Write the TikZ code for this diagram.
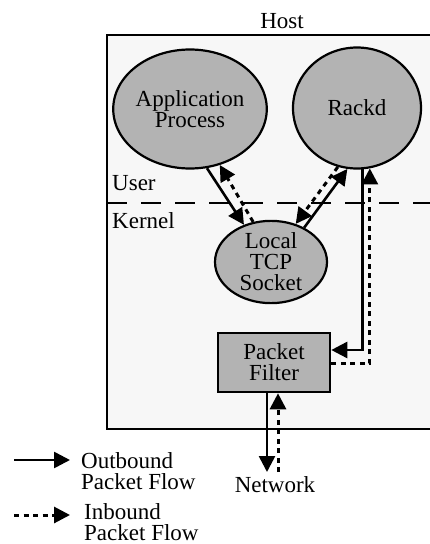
\documentclass[tikz,border=0pt]{standalone}
\usepackage{fontspec}
\setmainfont{Liberation Serif}
\usepackage{tikz}
\usetikzlibrary{shapes.geometric,arrows.meta,positioning}
\definecolor{hostbg}{RGB}{247,247,247}
\definecolor{shapegray}{RGB}{179,179,179}

\begin{document}
\begin{tikzpicture}[
  x=1pt,y=-1pt,
  font=\fontsize{23}{21}\selectfont,
  lbl/.style={inner sep=0pt},
  proc/.style={ellipse,draw,line width=2.2pt,fill=shapegray,inner sep=0pt,align=center},
  filt/.style={rectangle,draw,line width=2.6pt,fill=shapegray,inner sep=0pt,align=center},
  outf/.style={-{Triangle[length=16pt,width=16pt]},line width=2.6pt},
  inf/.style={-{Triangle[length=16pt,width=16pt]},line width=3pt,dash pattern=on 5pt off 4.5pt},
]
\useasboundingbox (0,0) rectangle (430,544);
\clip (0,0) rectangle (430,544);

% Host
\fill[white] (0,0) rectangle (430,544);
\draw[line width=2.4pt,fill=hostbg] (107,35) rectangle (445,429);
\node[lbl] (host) at (282,21) {Host};
\draw[line width=1.5pt,dash pattern=on 20pt off 14pt] (107,203) -- (445,203);
\node[lbl,anchor=west] (usr) at (112,183) {User};
\node[lbl,anchor=west] (krn) at (112,221) {Kernel};

% Prozesse
\node[proc,minimum width=124pt,minimum height=119pt] (app) at (190,109) {Application\\Process};
\node[proc,minimum width=128pt,minimum height=121pt] (rackd) at (357,108) {Rackd};
\node[proc,minimum width=112pt,minimum height=77pt] (sock) at (271,262) {Local\\TCP\\Socket};
\node[filt,minimum width=112pt,minimum height=59pt] (pf) at (274,362.5) {Packet\\Filter};
\node[lbl,inner sep=4pt,anchor=north] (net) at (275,472) {Network};

% Verbindungen
\draw[outf] (app.-74) -- (sock.126);
\draw[inf] (sock.114) -- (app.-62);
\draw[outf] (sock.46) -- (rackd.-99);
\draw[inf] (rackd.-108) -- (sock.57);
\draw[outf] (rackd.-85) |- ([yshift=12.5pt]pf.east);
\draw[inf] ([yshift=-0.5pt]pf.east) -| (rackd.-78);
\draw[outf] ([xshift=-7pt]pf.south) -- ([xshift=-8pt]net.north);
\draw[inf] ([xshift=3pt]net.north) -- ([xshift=4pt]pf.south);

% Legende
\coordinate (lgoA) at (14,460);
\coordinate (lgoB) at (70,460);
\coordinate (lgiA) at (14,515);
\coordinate (lgiB) at (70,515);
\draw[outf] (lgoA) -- (lgoB);
\draw[inf] (lgiA) -- (lgiB);
\node[lbl,anchor=west,align=left] (outtxt) at (81,471) {Outbound\\Packet Flow};
\node[lbl,anchor=west,align=left] (intxt) at (84,522) {Inbound\\Packet Flow};

\end{tikzpicture}
\end{document}
